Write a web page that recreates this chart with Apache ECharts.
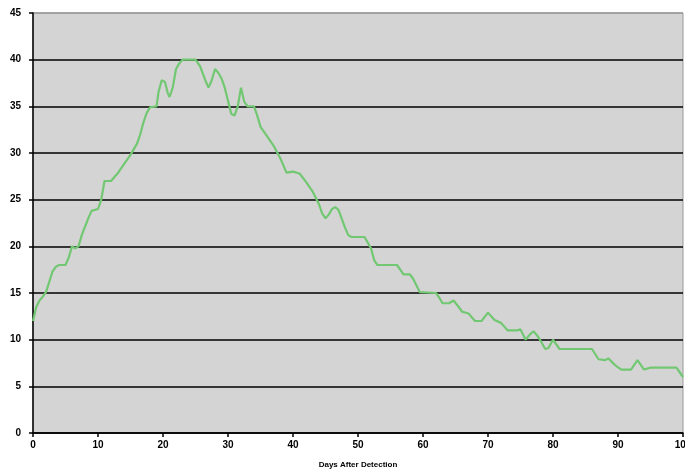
<!DOCTYPE html>
<html>
<head>
<meta charset="utf-8">
<script src="https://cdn.jsdelivr.net/npm/echarts@6/dist/echarts.min.js"></script>
<style>html,body{margin:0;padding:0;background:#fff}#c{width:685px;height:472px}</style>
</head>
<body>
<div id="c"></div>
<script>
const days = [0,0.5,1,1.5,2,2.5,3,3.5,4,5,5.5,6,6.5,7,7.5,8,8.5,9,10,10.5,11,12,13,14,15,16,16.5,17,17.5,18,19,19.3,19.8,20.3,20.7,21,21.5,22,22.5,23,25,25.7,26.5,27,27.5,28,28.5,29,29.5,30,30.5,31,31.5,32,32.5,33,34,34.5,35,36,37,38,38.5,39,40,41,42,43,44,44.5,45,45.5,46,46.5,47,48,48.5,49,51,52,52.5,53,56,57,58,58.5,59,59.5,62,62.5,63,64,64.7,65.5,66,67,68,69,70,71,72,73,74.5,75,75.8,76.5,77,77.5,78,78.8,79.3,80,81,86,87,88,88.5,89.5,90.5,92,93,94,95,99,100];
const values = [12,13.5,14.2,14.6,15.1,16.2,17.3,17.8,18,18,18.8,20,19.8,20,21.2,22.1,23,23.8,24,25,27,27,27.8,28.8,29.8,31,32,33.3,34.3,34.9,35,36.5,37.8,37.6,36.5,36,37,39,39.6,40,40,39.3,37.8,37,37.8,39,38.6,38,37,35.6,34.2,34,35,37,35.5,35,35,34,32.8,31.8,30.8,29.5,28.7,27.9,28,27.8,26.9,25.9,24.5,23.5,23,23.4,24,24.2,23.9,22,21.2,21,21,19.8,18.5,18,18,17,17,16.5,15.8,15.1,15,14.5,13.9,13.9,14.2,13.5,13,12.8,12,12,12.9,12.1,11.8,11,11,11.1,10,10.6,10.9,10.5,10,9,9.1,10,9,9,7.9,7.8,8,7.3,6.8,6.8,7.8,6.8,7,7,6];
const xTitle = 'Days After Detection';

const chart = echarts.init(document.getElementById('c'));
const font = {fontFamily:'Liberation Sans', fontSize:10, fontWeight:'bold', color:'#000'};
chart.setOption({
  animation:false,
  backgroundColor:'#fff',
  grid:{left:33,right:2,top:13,bottom:39,outerBoundsMode:'none',containLabel:false,show:true,backgroundColor:'#d4d4d4',borderColor:'#999',borderWidth:1},
  xAxis:{type:'value',min:0,max:100,interval:10,
    name:xTitle,nameLocation:'middle',nameGap:28,
    nameTextStyle:{fontFamily:'Liberation Sans',fontSize:8,fontWeight:'bold',color:'#000'},
    axisLine:{show:true,lineStyle:{color:'#000',width:1.5}},
    axisTick:{show:true,inside:false,length:4,lineStyle:{color:'#000',width:1.5}},
    axisLabel:Object.assign({margin:7},font),
    splitLine:{show:false}},
  yAxis:{type:'value',min:0,max:45,interval:5,
    axisLine:{show:true,lineStyle:{color:'#000',width:1.5}},
    axisTick:{show:true,inside:false,length:4,lineStyle:{color:'#000',width:1.5}},
    axisLabel:Object.assign({margin:12},font),
    splitLine:{show:true,lineStyle:{color:['#000','#000','#000','#000','#000','#000','#000','#000','#000','#999'],width:1.5}}},
  series:[{type:'line',data:days.map((d,i)=>[d,values[i]]),showSymbol:false,
    lineStyle:{color:'#72c872',width:2.2},z:5}]
});
</script>
</body>
</html>
